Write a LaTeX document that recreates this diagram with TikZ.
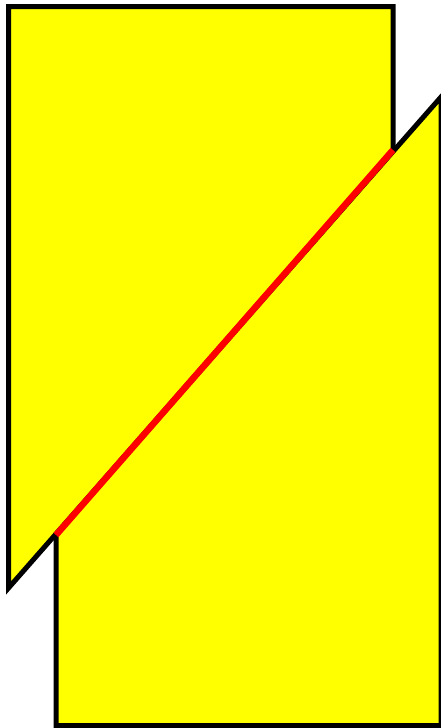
\documentclass[tikz,border=0pt]{standalone}
\definecolor{pieceyellow}{RGB}{255,255,0}
\definecolor{cutred}{RGB}{255,0,0}
\begin{document}
\begin{tikzpicture}[x=1pt,y=-1pt,
  piece/.style={fill=pieceyellow,draw=black,line width=5pt,line join=miter},
  cutline/.style={draw=cutred,line width=6.5pt}]
\useasboundingbox (0,0) rectangle (441,728);
\coordinate (ua) at (8.5,6.5);
\coordinate (ub) at (393,6.5);
\coordinate (uc) at (393,150);
\coordinate (ud) at (8.5,588);
\coordinate (la) at (56,535);
\coordinate (lb) at (441,97);
\coordinate (lc) at (441,725.5);
\coordinate (ld) at (56,725.5);
\path[piece] (ua) -- (ub) -- (uc) -- (ud) -- cycle;
\path[piece] (la) -- (lb) -- (lc) -- (ld) -- cycle;
\draw[cutline] (la) -- (uc);
\end{tikzpicture}
\end{document}
